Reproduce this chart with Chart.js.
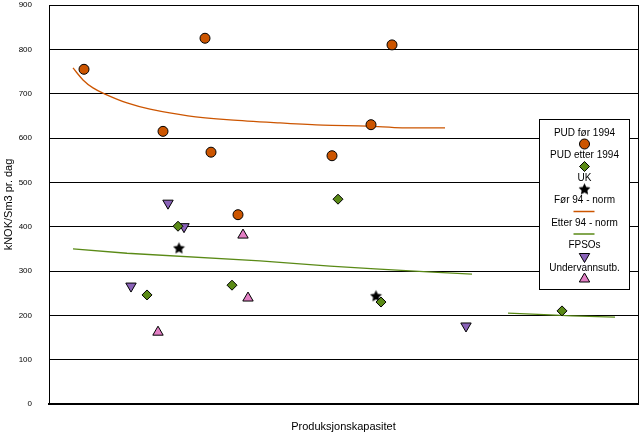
<!DOCTYPE html>
<html>
<head>
<meta charset="utf-8">
<script src="https://cdn.jsdelivr.net/npm/chart.js@4.4.1/dist/chart.umd.min.js"></script>
<style>
  body { margin: 0; background: #fff; }
</style>
</head>
<body>
<canvas id="myChart" width="640" height="433"></canvas>
<script>
// x = produksjonskapasitet (relativ, ingen skala i originalen), y = kNOK/Sm3 pr. dag
var pudForX = [35, 156, 343, 114, 162, 322, 283, 189];
var pudForY = [755, 825, 810, 615, 568, 630, 560, 427];

var pudEtterX = [98, 129, 183, 289, 332, 513];
var pudEtterY = [246, 401, 268, 462, 230, 210];

var ukX = [130, 327];
var ukY = [352, 244];

var fpsoX = [119, 135, 82, 417];
var fpsoY = [453, 400, 266, 176];

var underX = [194, 199, 109];
var underY = [381, 239, 162];

// trendlinjer lest av bildet
var normForX = [24, 34, 44, 56, 78, 101, 139, 181, 231, 274, 318, 353, 396];
var normForY = [758, 731, 713, 699, 679, 665, 650, 641, 634, 629, 627, 623, 623];

var normEtterX = [24, 78, 211, 281, 326, 379, 423, null, 459, 501, 523, 566];
var normEtterY = [350, 340, 323, 311, 305, 298, 293, null, 205, 201, 199, 196];

var yTicks = [0, 100, 200, 300, 400, 500, 600, 700, 800, 900];

var orange = '#CC5500';
var green = '#5A8A16';
var purple = '#8A62B8';
var pink = '#E27FC4';
var font = 'Liberation Sans, Arial, sans-serif';

function pairs(xs, ys) {
  var out = [];
  for (var i = 0; i < xs.length; i++) {
    out.push(xs[i] === null ? {x: null, y: null} : {x: xs[i], y: ys[i]});
  }
  return out;
}

// fylt svart stjerne som punktstil
var star = document.createElement('canvas');
star.width = 13; star.height = 13;
(function () {
  var c = star.getContext('2d');
  c.beginPath();
  for (var i = 0; i < 10; i++) {
    var r = i % 2 === 0 ? 6.2 : 3;
    var a = -Math.PI / 2 + i * Math.PI / 5;
    var px = 6.5 + r * Math.cos(a), py = 7 + r * Math.sin(a);
    if (i === 0) c.moveTo(px, py); else c.lineTo(px, py);
  }
  c.closePath();
  c.fillStyle = '#000';
  c.fill();
})();

var legendItems = [
  {text: 'PUD før 1994', style: 'circle', color: orange, radius: 5},
  {text: 'PUD etter 1994', style: 'rectRot', color: green, radius: 5},
  {text: 'UK', style: star, color: '#000', radius: 6},
  {text: 'Før 94 - norm', line: orange},
  {text: 'Etter 94 - norm', line: green},
  {text: 'FPSOs', style: 'triangle', color: purple, radius: 6, rotation: 180},
  {text: 'Undervannsutb.', style: 'triangle', color: pink, radius: 6}
];

var boxLegend = {
  id: 'boxLegend',
  afterDraw: function (chart) {
    var ctx = chart.ctx;
    var left = 539.5, top = 119.5, w = 90, h = 170;
    var cx = left + w / 2;
    ctx.save();
    ctx.fillStyle = '#fff';
    ctx.fillRect(left, top, w, h);
    ctx.strokeStyle = '#000';
    ctx.lineWidth = 1;
    ctx.strokeRect(left, top, w, h);
    ctx.font = '10px ' + font;
    ctx.textAlign = 'center';
    ctx.textBaseline = 'middle';
    var y = 133;
    legendItems.forEach(function (it) {
      ctx.fillStyle = '#000';
      ctx.fillText(it.text, cx, y);
      var my = y + 11;
      if (it.line) {
        ctx.strokeStyle = it.line;
        ctx.lineWidth = 1.5;
        ctx.beginPath();
        ctx.moveTo(cx - 11, my);
        ctx.lineTo(cx + 10, my);
        ctx.stroke();
      } else {
        ctx.fillStyle = it.color;
        ctx.strokeStyle = '#000';
        ctx.lineWidth = 1;
        Chart.helpers.drawPoint(ctx, {
          pointStyle: it.style, radius: it.radius, rotation: it.rotation || 0, borderWidth: 1
        }, cx, my);
      }
      y += 22.5;
    });
    ctx.restore();
  },
  afterDatasetsDraw: function (chart) {
    // høyre ramme
    var a = chart.chartArea, ctx = chart.ctx;
    ctx.save();
    ctx.strokeStyle = '#000';
    ctx.lineWidth = 1;
    ctx.beginPath();
    ctx.moveTo(a.right + 0.5, a.top);
    ctx.lineTo(a.right + 0.5, a.bottom);
    ctx.stroke();
    ctx.restore();
  }
};

function markers(label, xs, ys, style, color, radius, rotation) {
  return {
    label: label,
    data: pairs(xs, ys),
    pointStyle: style,
    pointRadius: radius,
    pointRotation: rotation || 0,
    backgroundColor: color,
    borderColor: '#000',
    pointBorderWidth: 1,
    showLine: false,
    order: 0
  };
}

new Chart('myChart', {
  type: 'scatter',
  data: {
    datasets: [
      markers('PUD før 1994', pudForX, pudForY, 'circle', orange, 5),
      markers('PUD etter 1994', pudEtterX, pudEtterY, 'rectRot', green, 5),
      markers('UK', ukX, ukY, star, '#000', 6),
      {
        label: 'Før 94 - norm', data: pairs(normForX, normForY), showLine: true,
        borderColor: orange, borderWidth: 1.3, pointRadius: 0, tension: 0.3, order: 1
      },
      {
        label: 'Etter 94 - norm', data: pairs(normEtterX, normEtterY), showLine: true, spanGaps: false,
        borderColor: green, borderWidth: 1.3, pointRadius: 0, order: 1
      },
      markers('FPSOs', fpsoX, fpsoY, 'triangle', purple, 6, 180),
      markers('Undervannsutb.', underX, underY, 'triangle', pink, 6)
    ]
  },
  options: {
    responsive: false,
    animation: false,
    layout: {autoPadding: false, padding: {top: 5, right: 2, left: 0, bottom: 0}},
    plugins: {legend: {display: false}, tooltip: {enabled: false}},
    scales: {
      x: {
        type: 'linear', min: 0, max: 589,
        ticks: {display: false},
        grid: {display: false},
        border: {color: '#000', width: 2},
        title: {display: true, text: 'Produksjonskapasitet', color: '#000', font: {family: font, size: 11}, padding: {top: 0, bottom: -1}},
        afterFit: function (s) { s.height = 29; s.paddingLeft = 0; s.paddingRight = 0; }
      },
      y: {
        min: 0, max: 900,
        afterBuildTicks: function (s) { s.ticks = yTicks.map(function (v) { return {value: v}; }); },
        ticks: {color: '#000', font: {family: font, size: 8}, padding: 17},
        grid: {color: '#000', drawTicks: false},
        border: {color: '#000', width: 1},
        title: {display: true, text: 'kNOK/Sm3 pr. dag', color: '#000', font: {family: font, size: 11}, padding: {top: 2, bottom: 0}},
        afterFit: function (s) { s.width = 49; s.paddingTop = 0; s.paddingBottom = 0; }
      }
    }
  },
  plugins: [boxLegend]
});
</script>
</body>
</html>
